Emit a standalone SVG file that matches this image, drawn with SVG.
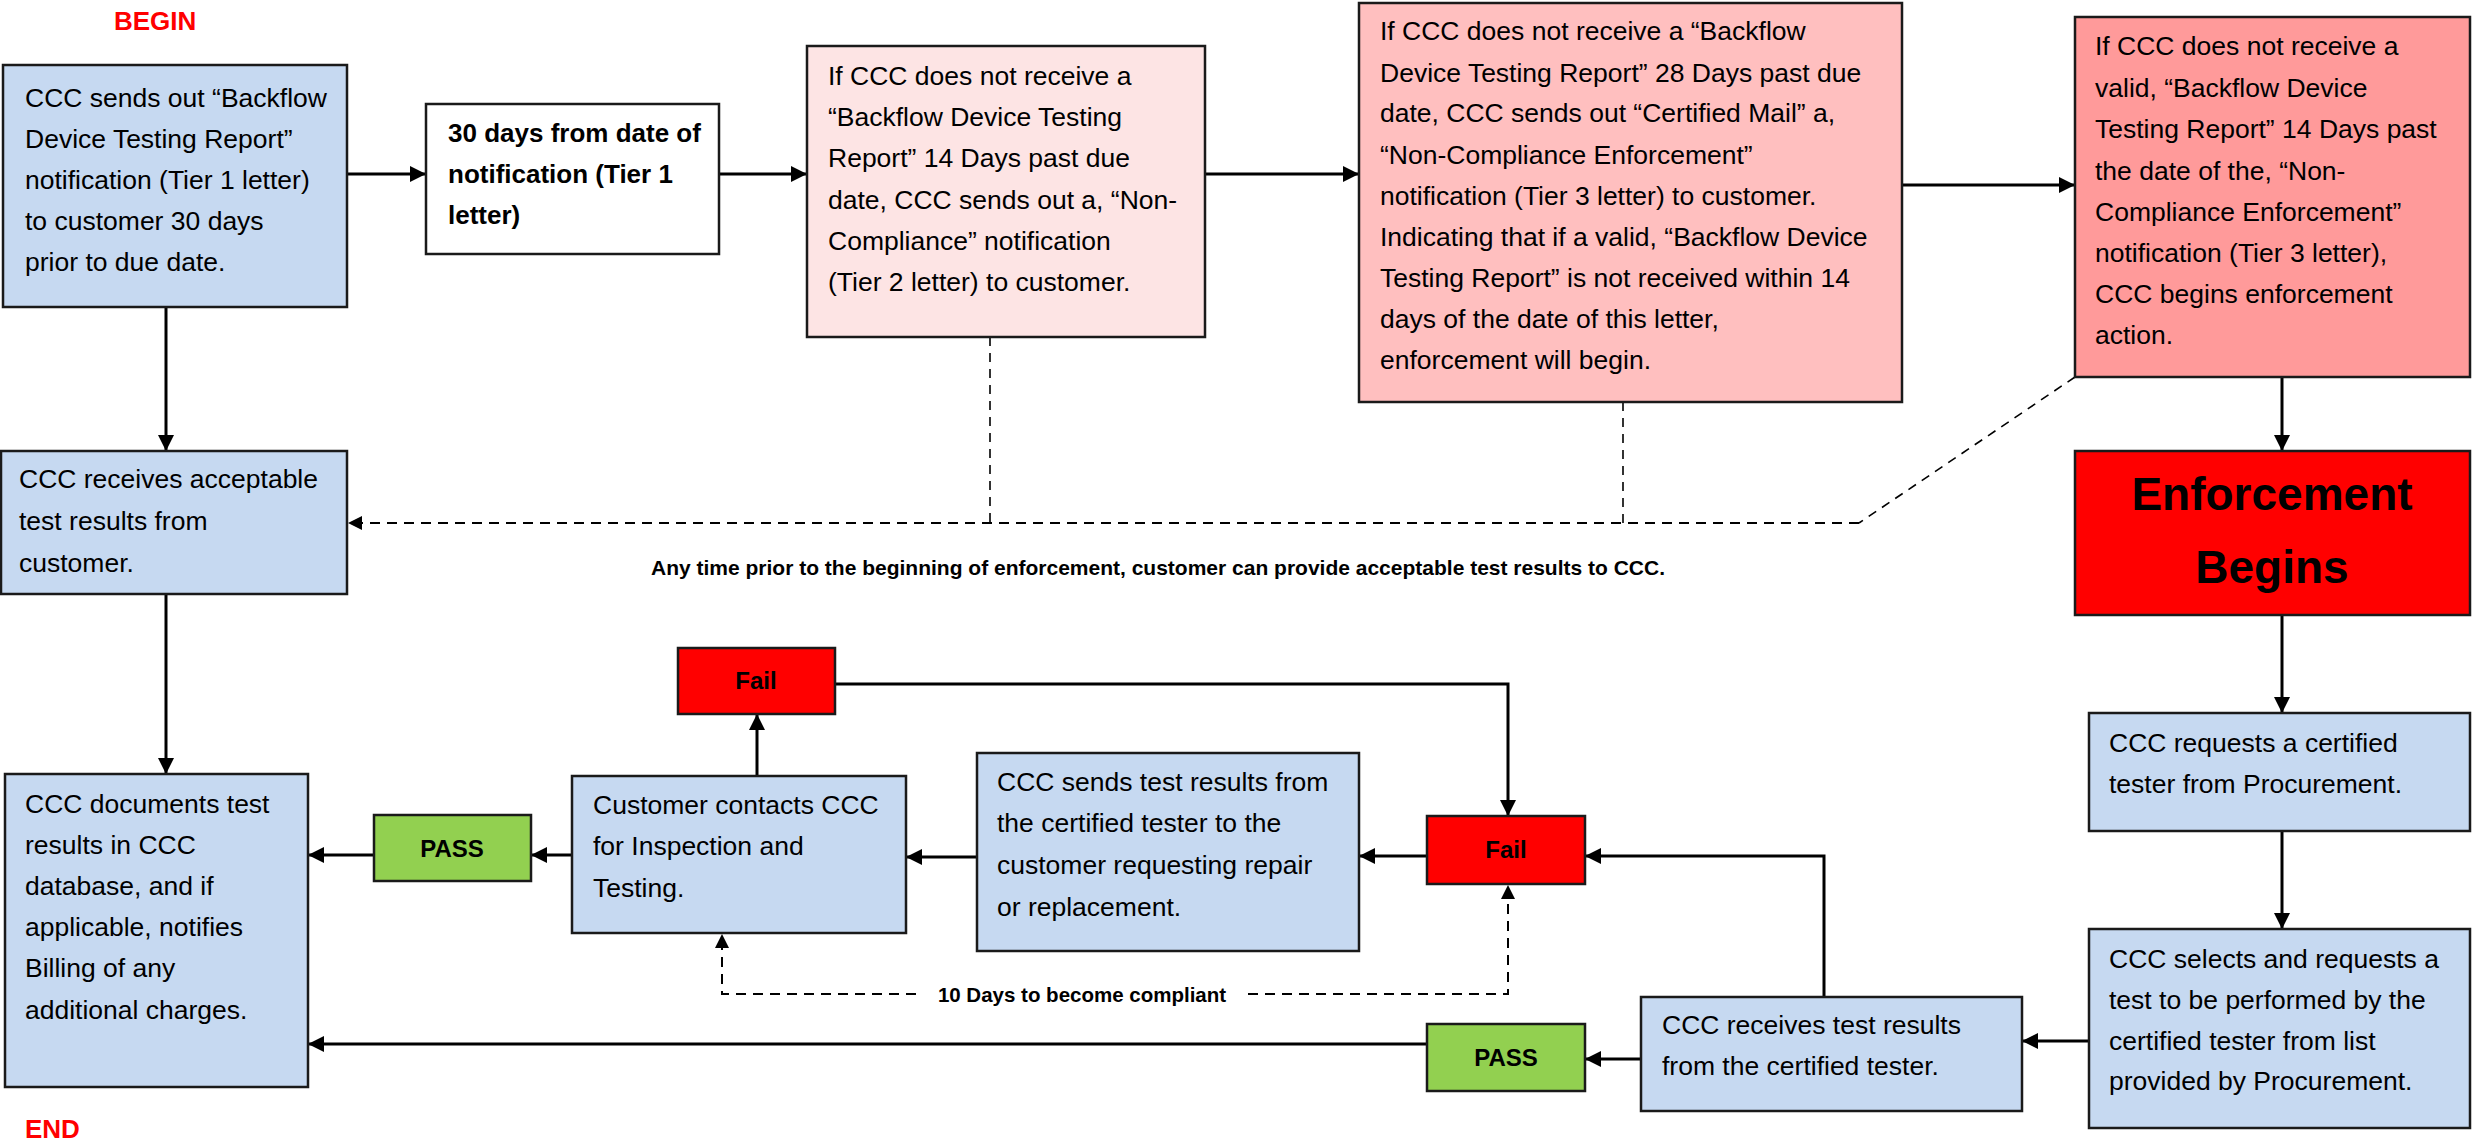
<svg xmlns="http://www.w3.org/2000/svg" width="2473" height="1144" viewBox="0 0 2473 1144">
<defs>
<style>
text{font-family:"Liberation Sans",Arial,sans-serif;fill:#000}
.t{font-size:26.5px}
.b{font-weight:bold}
.box{stroke:#1a1a1a;stroke-width:2.5}
.blue{fill:#C6D9F1}
.p1{fill:#FDE4E4}
.p2{fill:#FFBFBF}
.p3{fill:#FF9A9A}
.red{fill:#FF0000}
.green{fill:#92D050}
.white{fill:#FFFFFF}
.lbl{font-size:24px;font-weight:bold;text-anchor:middle}
.redtxt{fill:#FF0000;font-weight:bold;font-size:26px}
.conn{fill:none;stroke:#000;stroke-width:3}
.dash{fill:none;stroke:#000;stroke-width:2;stroke-dasharray:10 7}
.dthin{fill:none;stroke:#000;stroke-width:1.6;stroke-dasharray:9 7}
</style>
<marker id="arr" markerUnits="userSpaceOnUse" markerWidth="16" markerHeight="16" refX="16" refY="8" orient="auto">
<path d="M0,0 L16,8 L0,16 z" fill="#000"/>
</marker>
<marker id="arrs" markerUnits="userSpaceOnUse" markerWidth="14" markerHeight="14" refX="14" refY="7" orient="auto">
<path d="M0,0 L14,7 L0,14 z" fill="#000"/>
</marker>
</defs>
<rect width="2473" height="1144" fill="#FFFFFF"/>

<text x="114" y="30" class="redtxt">BEGIN</text>
<text x="25" y="1138" class="redtxt">END</text>

<g id="connectors">
<path class="conn" d="M347,174 H426" marker-end="url(#arr)"/>
<path class="conn" d="M719,174 H807" marker-end="url(#arr)"/>
<path class="conn" d="M1205,174 H1359" marker-end="url(#arr)"/>
<path class="conn" d="M1902,185 H2075" marker-end="url(#arr)"/>
<path class="conn" d="M166,307 V451" marker-end="url(#arr)"/>
<path class="conn" d="M2282,377 V451" marker-end="url(#arr)"/>
<path class="conn" d="M166,594 V774" marker-end="url(#arr)"/>
<path class="conn" d="M2282,615 V713" marker-end="url(#arr)"/>
<path class="conn" d="M2282,831 V929" marker-end="url(#arr)"/>
<path class="conn" d="M2089,1041 H2022" marker-end="url(#arr)"/>
<path class="conn" d="M1641,1059 H1585" marker-end="url(#arr)"/>
<path class="conn" d="M1427,1044 H308" marker-end="url(#arr)"/>
<path class="conn" d="M1824,997 V856 H1585" marker-end="url(#arr)"/>
<path class="conn" d="M1427,856 H1359" marker-end="url(#arr)"/>
<path class="conn" d="M977,857 H906" marker-end="url(#arr)"/>
<path class="conn" d="M757,776 V714" marker-end="url(#arr)"/>
<path class="conn" d="M835,684 H1508 V816" marker-end="url(#arr)"/>
<path class="conn" d="M572,855 H531" marker-end="url(#arr)"/>
<path class="conn" d="M374,855 H308" marker-end="url(#arr)"/>
<path class="dthin" d="M990,337 V523"/>
<path class="dthin" d="M1623,402 V523"/>
<path class="dthin" d="M2075,377 L1859,523"/>
<path class="dash" d="M1859,523 H348" marker-end="url(#arrs)"/>
<path class="dash" d="M916,994 H722 V934" marker-end="url(#arrs)"/>
<path class="dash" d="M1248,994 H1508 V885" marker-end="url(#arrs)"/>
<text x="651" y="575" class="b" style="font-size:21px">Any time prior to the beginning of enforcement, customer can provide acceptable test results to CCC.</text>
<text x="1082" y="1002" class="b" style="font-size:20.5px" text-anchor="middle">10 Days to become compliant</text>
</g>

<g id="n1">
<rect class="box blue" x="3" y="65" width="344" height="242"/>
<text class="t" x="25"><tspan x="25" y="107">CCC sends out “Backflow</tspan><tspan x="25" y="148">Device Testing Report”</tspan><tspan x="25" y="189">notification (Tier 1 letter)</tspan><tspan x="25" y="230">to customer 30 days</tspan><tspan x="25" y="271">prior to due date.</tspan></text>
</g>

<g id="n2">
<rect class="box white" x="426" y="104" width="293" height="150"/>
<text class="b" style="font-size:26px"><tspan x="448" y="142">30 days from date of</tspan><tspan x="448" y="183">notification (Tier 1</tspan><tspan x="448" y="224">letter)</tspan></text>
</g>

<g id="n3">
<rect class="box p1" x="807" y="46" width="398" height="291"/>
<text class="t"><tspan x="828" y="85">If CCC does not receive a</tspan><tspan x="828" y="126">“Backflow Device Testing</tspan><tspan x="828" y="167">Report” 14 Days past due</tspan><tspan x="828" y="209">date, CCC sends out a, “Non-</tspan><tspan x="828" y="250">Compliance” notification</tspan><tspan x="828" y="291">(Tier 2 letter) to customer.</tspan></text>
</g>

<g id="n4">
<rect class="box p2" x="1359" y="3" width="543" height="399"/>
<text class="t"><tspan x="1380" y="40">If CCC does not receive a “Backflow</tspan><tspan x="1380" y="82">Device Testing Report” 28 Days past due</tspan><tspan x="1380" y="122">date, CCC sends out “Certified Mail” a,</tspan><tspan x="1380" y="164">“Non-Compliance Enforcement”</tspan><tspan x="1380" y="205">notification (Tier 3 letter) to customer.</tspan><tspan x="1380" y="246">Indicating that if a valid, “Backflow Device</tspan><tspan x="1380" y="287">Testing Report” is not received within 14</tspan><tspan x="1380" y="328">days of the date of this letter,</tspan><tspan x="1380" y="369">enforcement will begin.</tspan></text>
</g>

<g id="n5">
<rect class="box p3" x="2075" y="17" width="395" height="360"/>
<text class="t"><tspan x="2095" y="55">If CCC does not receive a</tspan><tspan x="2095" y="97">valid, “Backflow Device</tspan><tspan x="2095" y="138">Testing Report” 14 Days past</tspan><tspan x="2095" y="180">the date of the, “Non-</tspan><tspan x="2095" y="221">Compliance Enforcement”</tspan><tspan x="2095" y="262">notification (Tier 3 letter),</tspan><tspan x="2095" y="303">CCC begins enforcement</tspan><tspan x="2095" y="344">action.</tspan></text>
</g>

<g id="n6">
<rect class="box red" x="2075" y="451" width="395" height="164"/>
<text class="b" style="font-size:46px" text-anchor="middle"><tspan x="2272" y="510">Enforcement</tspan><tspan x="2272" y="583">Begins</tspan></text>
</g>

<g id="n7">
<rect class="box blue" x="1" y="451" width="346" height="143"/>
<text class="t"><tspan x="19" y="488">CCC receives acceptable</tspan><tspan x="19" y="530">test results from</tspan><tspan x="19" y="572">customer.</tspan></text>
</g>

<g id="n8">
<rect class="box blue" x="5" y="774" width="303" height="313"/>
<text class="t"><tspan x="25" y="813">CCC documents test</tspan><tspan x="25" y="854">results in CCC</tspan><tspan x="25" y="895">database, and if</tspan><tspan x="25" y="936">applicable, notifies</tspan><tspan x="25" y="977">Billing of any</tspan><tspan x="25" y="1019">additional charges.</tspan></text>
</g>

<g id="n9">
<rect class="box green" x="374" y="815" width="157" height="66"/>
<text class="lbl" x="452" y="857">PASS</text>
</g>

<g id="n10">
<rect class="box blue" x="572" y="776" width="334" height="157"/>
<text class="t"><tspan x="593" y="814">Customer contacts CCC</tspan><tspan x="593" y="855">for Inspection and</tspan><tspan x="593" y="897">Testing.</tspan></text>
</g>

<g id="n11">
<rect class="box red" x="678" y="648" width="157" height="66"/>
<text class="lbl" x="756" y="689">Fail</text>
</g>

<g id="n12">
<rect class="box blue" x="977" y="753" width="382" height="198"/>
<text class="t"><tspan x="997" y="791">CCC sends test results from</tspan><tspan x="997" y="832">the certified tester to the</tspan><tspan x="997" y="874">customer requesting repair</tspan><tspan x="997" y="916">or replacement.</tspan></text>
</g>

<g id="n13">
<rect class="box red" x="1427" y="816" width="158" height="68"/>
<text class="lbl" x="1506" y="858">Fail</text>
</g>

<g id="n14">
<rect class="box green" x="1427" y="1024" width="158" height="67"/>
<text class="lbl" x="1506" y="1066">PASS</text>
</g>

<g id="n15">
<rect class="box blue" x="1641" y="997" width="381" height="114"/>
<text class="t"><tspan x="1662" y="1034">CCC receives test results</tspan><tspan x="1662" y="1075">from the certified tester.</tspan></text>
</g>

<g id="n16">
<rect class="box blue" x="2089" y="713" width="381" height="118"/>
<text class="t"><tspan x="2109" y="752">CCC requests a certified</tspan><tspan x="2109" y="793">tester from Procurement.</tspan></text>
</g>

<g id="n17">
<rect class="box blue" x="2089" y="929" width="381" height="199"/>
<text class="t"><tspan x="2109" y="968">CCC selects and requests a</tspan><tspan x="2109" y="1009">test to be performed by the</tspan><tspan x="2109" y="1050">certified tester from list</tspan><tspan x="2109" y="1090">provided by Procurement.</tspan></text>
</g>
</svg>
